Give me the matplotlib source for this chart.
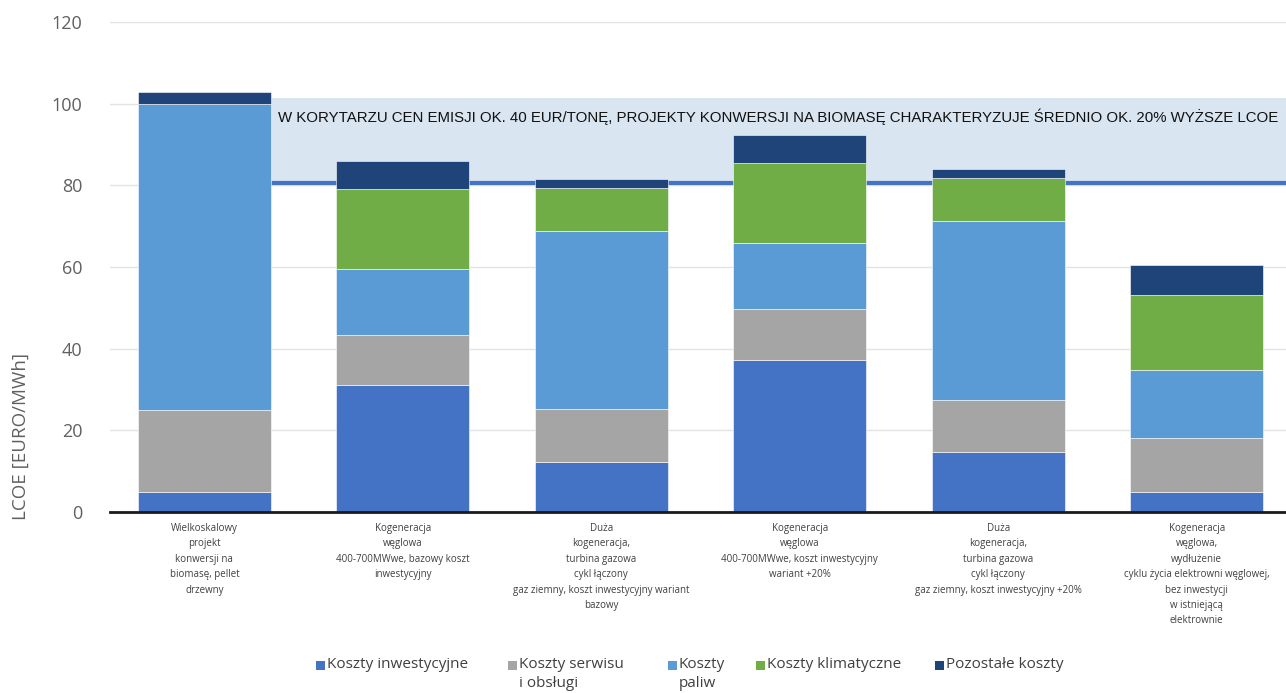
import matplotlib
matplotlib.use("Agg")
import matplotlib.pyplot as plt
from matplotlib.patches import Rectangle
import numpy as np

# Data (EUR/MWh)
categories = [
    "Wielkoskalowy\nprojekt\nkonwersji na\nbiomasę, pellet\ndrzewny",
    "Kogeneracja\nwęglowa\n400-700MWwe, bazowy koszt\ninwestycyjny",
    "Duża\nkogeneracja,\nturbina gazowa\ncykl łączony\ngaz ziemny, koszt inwestycyjny wariant\nbazowy",
    "Kogeneracja\nwęglowa\n400-700MWwe, koszt inwestycyjny\nwariant +20%",
    "Duża\nkogeneracja,\nturbina gazowa\ncykl łączony\ngaz ziemny, koszt inwestycyjny +20%",
    "Kogeneracja\nwęglowa,\nwydłużenie\ncyklu życia elektrowni węglowej,\nbez inwestycji\nw istniejącą\nelektrownie",
]
koszty_inwestycyjne = [4.9, 31.1, 12.2, 37.2, 14.7, 4.9]
koszty_serwisu = [20.1, 12.2, 13.0, 12.5, 12.7, 13.2]
koszty_paliw = [74.9, 16.2, 43.6, 16.2, 43.9, 16.7]
koszty_klimatyczne = [0.0, 19.6, 10.6, 19.6, 10.4, 18.3]
pozostale_koszty = [3.0, 6.9, 2.2, 6.8, 2.2, 7.4]

series_labels = ["Koszty inwestycyjne", "Koszty serwisu\ni obsługi", "Koszty\npaliw",
                 "Koszty klimatyczne", "Pozostałe koszty"]
series = [koszty_inwestycyjne, koszty_serwisu, koszty_paliw, koszty_klimatyczne, pozostale_koszty]
colors = ["#4472C4", "#A5A5A5", "#5B9BD5", "#70AD47", "#1F4479"]

band_low, band_high = 80.5, 101.5
band_text = ("W KORYTARZU CEN EMISJI OK. 40 EUR/TONĘ, PROJEKTY KONWERSJI NA BIOMASĘ "
             "CHARAKTERYZUJE ŚREDNIO OK. 20% WYŻSZE LCOE")

plt.rcParams["font.family"] = ["Open Sans", "DejaVu Sans"]

fig = plt.figure(figsize=(12.86, 6.93), dpi=100)
ax = fig.add_axes([0.0855, 0.2612, 0.9145, 0.7071])

x = np.arange(len(categories))
width = 0.67

# highlighted band behind bars (starts at right edge of first bar)
band_x0 = x[0] + width / 2
ax.add_patch(Rectangle((band_x0, band_low), 10, band_high - band_low,
                       facecolor="#DAE5F2", edgecolor="none", zorder=1))
ax.plot([band_x0, 10], [band_low, band_low], color="#4472C4", lw=3, zorder=1.5)

bottom = np.zeros(len(categories))
for vals, col in zip(series, colors):
    ax.bar(x, vals, width, bottom=bottom, color=col, edgecolor="#FFFFFF",
           linewidth=0.4, zorder=3)
    bottom += np.array(vals)

ax.set_xlim(-0.476, 5.45)
ax.set_ylim(0, 120)

# band text: fit Liberation Sans to the width of the band
t = ax.text(band_x0 + 0.035, 96.8, band_text, fontsize=13, va="center", ha="left",
            family=["Liberation Sans", "DejaVu Sans"], color="#111111", zorder=4)
fig.canvas.draw()
w = t.get_window_extent().width
t.set_fontsize(13 * 998 / w)

ax.set_yticks(np.arange(0, 121, 20))
ax.yaxis.grid(True, color="#E3E3E3", lw=1)
ax.set_axisbelow(True)
for s in ["top", "right", "left"]:
    ax.spines[s].set_visible(False)
ax.spines["bottom"].set_color("#1A1A1A")
ax.spines["bottom"].set_linewidth(2)
ax.spines["bottom"].set_zorder(5)
ax.tick_params(axis="y", length=0, labelsize=13, labelcolor="#606060", pad=20)
ax.tick_params(axis="x", length=0, pad=8)
ax.set_xticks(x)
ax.set_xticklabels(categories, fontsize=7, color="#404040", linespacing=1.55, va="top")
ax.set_ylabel("LCOE [EURO/MWh]", fontsize=13.5, color="#606060")
ax.yaxis.set_label_coords(-0.068, 0.155)

# legend drawn manually in figure coordinates
leg_x = [316, 508, 668, 756, 935]
leg_y = 665
for lx, lab, col in zip(leg_x, series_labels, colors):
    fig.patches.append(Rectangle((lx / 1286, (693 - leg_y - 5) / 693), 9 / 1286, 9 / 693,
                                 transform=fig.transFigure, facecolor=col, edgecolor="none"))
    fig.text((lx + 11) / 1286, (693 - leg_y + 8) / 693, lab, fontsize=11, color="#404040",
             va="top", ha="left", linespacing=1.4)

fig.savefig("out.png", dpi=100)
